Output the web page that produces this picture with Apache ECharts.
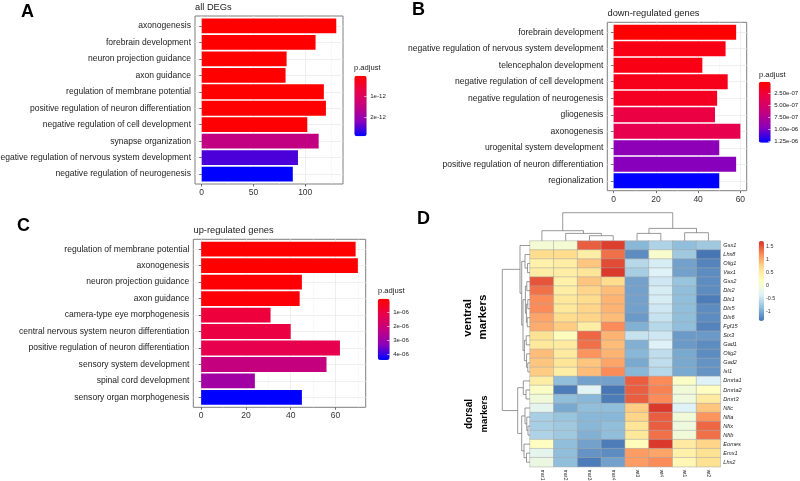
<!DOCTYPE html>
<html><head><meta charset="utf-8">
<style>html,body{margin:0;padding:0;background:#fff}#c{width:800px;height:481px}</style>
<script src="https://cdn.jsdelivr.net/npm/echarts@6/dist/echarts.min.js"></script>
</head><body><div id="c"></div>
<script>
// ---------- data ----------
const catsA = ["axonogenesis","forebrain development","neuron projection guidance","axon guidance","regulation of membrane potential","positive regulation of neuron differentiation","negative regulation of cell development","synapse organization","negative regulation of nervous system development","negative regulation of neurogenesis"];
const countsA = [130,110,82,81,118,120,102,113,93,88];
const padjA = [0.02,0.02,0.03,0.03,0.04,0.05,0.06,1.5,2.5,2.89]; // x 1e-12
const ticksA = [1,2];
const tickLabelsA = ["1e-12","2e-12"];

const catsB = ["forebrain development","negative regulation of nervous system development","telencephalon development","negative regulation of cell development","negative regulation of neurogenesis","gliogenesis","axonogenesis","urogenital system development","positive regulation of neuron differentiation","regionalization"];
const countsB = [58,53,42,54,49,48,60,50,58,50];
const padjB = [0.01,0.1,0.1,0.12,0.16,0.3,0.35,0.95,0.97,1.28]; // x 1e-6
const ticksB = [0.25,0.5,0.75,1,1.25];
const tickLabelsB = ["2.50e-07","5.00e-07","7.50e-07","1.00e-06","1.25e-06"];

const catsC = ["regulation of membrane potential","axonogenesis","neuron projection guidance","axon guidance","camera-type eye morphogenesis","central nervous system neuron differentiation","positive regulation of neuron differentiation","sensory system development","spinal cord development","sensory organ morphogenesis"];
const countsC = [69,70,45,44,31,40,62,56,24,45];
const padjC = [0,0.02,0.05,0.1,0.9,1.0,1.2,2.2,2.9,4.43]; // x 1e-6
const ticksC = [1,2,3,4];
const tickLabelsC = ["1e-06","2e-06","3e-06","4e-06"];

const genes = ["Gsx1","Lhx8","Olig1","Vax1","Gsx2","Dlx2","Dlx1","Dlx5","Dlx6","Fgf15","Six3","Gad1","Olig2","Gad2","Isl1","Dmrta1","Dmrta2","Dmrt3","Nfic","Nfia","Nfix","Nfib","Eomes","Emx1","Lhx2"];
const samples = ["mut1","mut2","mut3","mut4","wt3","wt4","wt1","wt2"];
const expr = [
[0.0,0.0,1.45,1.62,-0.9,-0.65,-0.85,-0.75],
[0.7,0.7,0.45,1.35,-1.2,0.05,-0.75,-1.35],
[0.4,0.45,0.85,1.55,-0.6,-0.4,-1.05,-1.25],
[0.45,0.45,0.6,1.65,-0.7,-0.35,-1.05,-1.2],
[1.5,0.4,0.85,0.7,-1.05,-0.45,-0.8,-1.2],
[1.35,0.45,0.75,0.9,-1.05,-0.4,-0.85,-1.2],
[1.2,0.55,0.7,0.95,-1.05,-0.4,-0.85,-1.3],
[1.2,0.55,0.75,0.95,-1.05,-0.45,-0.85,-1.2],
[1.05,0.7,0.75,0.9,-1.1,-0.5,-0.85,-1.2],
[1.0,0.8,0.45,1.2,-0.95,-0.6,-0.85,-1.25],
[0.65,0.2,1.4,0.95,-0.5,-0.45,-1.1,-1.1],
[0.55,0.5,1.35,0.9,-0.95,-0.35,-1.1,-1.2],
[0.9,0.5,1.15,0.95,-0.9,-0.55,-1.0,-1.2],
[0.85,0.6,0.85,1.05,-1.0,-0.55,-1.0,-1.15],
[0.8,0.45,0.9,1.2,-0.9,-0.6,-1.0,-1.15],
[0.45,-0.85,-1.05,-1.05,1.45,1.2,0.1,-0.35],
[0.1,-1.3,-0.3,-1.35,1.45,1.25,-0.05,0.15],
[-0.05,-0.85,-0.9,-1.3,1.45,1.2,-0.1,0.5],
[-0.25,-1.0,-0.85,-0.85,0.8,1.65,-0.35,0.85],
[-0.7,-0.8,-0.9,-0.9,0.75,1.45,-0.05,1.15],
[-0.7,-0.75,-0.9,-0.85,0.6,1.45,-0.1,1.4],
[-0.65,-0.75,-0.95,-0.85,0.55,1.35,-0.05,1.35],
[0.15,-0.85,-1.05,-1.3,0.2,1.65,0.5,0.75],
[-0.25,-0.85,-1.15,-1.2,1.1,1.05,0.4,0.65],
[-0.15,-0.85,-1.3,-1.05,1.1,1.2,0.3,0.65]
];
const heatTicks = [-1,-0.5,0,0.5,1,1.5];
const heatTickLabels = ["-1","-0.5","0","0.5","1","1.5"];
// dendrograms: [height, left, right]; a number is a leaf index
const colTree = [28,[10,0,[7.3,1,[5,2,3]]],[12.3,[7.3,4,5],[8,6,7]]];
const rowTree = [27.7,
  [10,0,[8.3,[5,1,[2.5,2,3]],[7,[4.6,[3.2,4,5],[3.6,[2.2,6,7],[2.8,8,9]]],[5.6,[3.8,10,11],[3.4,12,[2.2,13,14]]]]]],
  [12.3,[6.7,15,[4,16,17]],[8.3,[5,18,[3.2,19,[2,20,21]]],[6,22,[3.5,23,24]]]]];

// ---------- styling ----------
const FONT = '"Liberation Sans",Arial,sans-serif';
const padjColors = ['#ff0000','#e9004a','#c4007f','#8c00ba','#0000ff'];
const heatColors = ['#4575b4','#91bfdb','#e0f3f8','#ffffbf','#fee090','#fc8d59','#d73027'];

const panels = [
 {cats:catsA,counts:countsA,padj:padjA,xMax:136.5,xMin:-6.5,major:[0,50,100],minor:[25,75,125],
  box:[195,16,148,168],title:'all DEGs',titleXY:[195,3],bar:[354.3,75.7,12.4,60.6],pMin:0.03,pMax:2.89,ticks:ticksA,labels:tickLabelsA,legXY:[354,64]},
 {cats:catsB,counts:countsB,padj:padjB,xMax:63,xMin:-3,major:[0,20,40,60],minor:[10,30,50],
  box:[607.3,22.3,139.4,168.4],title:'down-regulated genes',titleXY:[607.5,9],bar:[758.7,81.7,12,61],pMin:0.01,pMax:1.28,ticks:ticksB,labels:tickLabelsB,legXY:[759,70.5]},
 {cats:catsC,counts:countsC,padj:padjC,xMax:73.5,xMin:-3.5,major:[0,20,40,60],minor:[10,30,50,70],
  box:[193.3,239.3,172.4,168],title:'up-regulated genes',titleXY:[193.5,226],bar:[377.7,298.7,12,61.3],pMin:0,pMax:4.43,ticks:ticksC,labels:tickLabelsC,legXY:[378,287]}
];

const grid=[],xAxis=[],yAxis=[],series=[],visualMap=[],title=[],graphic=[];
const addGrid = g => { grid.push(Object.assign({outerBoundsMode:'none'},g)); return grid.length-1; };
const txt = (text,x,y,size,extra)=>title.push({text,left:x,top:y,padding:0,itemGap:0,
  textStyle:Object.assign({fontFamily:FONT,fontSize:size,fontWeight:'normal',color:'#222'},extra||{})});

panels.forEach(p=>{
  const [l,t,w,h]=p.box, band=h/10.2, inset=0.1*band;
  // outer grid: frame, value axis, vertical guides
  const gOuter=addGrid({left:l,top:t,width:w,height:h,show:true,borderColor:'#7f7f7f',borderWidth:1,backgroundColor:'transparent'});
  xAxis.push({gridIndex:gOuter,type:'value',min:p.xMin,max:p.xMax,position:'bottom',
    axisLine:{show:false},
    axisTick:{show:true,customValues:p.major,length:2.5,lineStyle:{color:'#333',width:0.7}},
    axisLabel:{customValues:p.major,fontFamily:FONT,fontSize:8.5,color:'#333',margin:4},
    splitLine:{show:true,lineStyle:{color:'#ebebeb',width:0.8}}});
  xAxis.push({gridIndex:gOuter,type:'value',min:p.xMin,max:p.xMax,position:'bottom',
    axisLine:{show:false},axisTick:{show:false,customValues:p.minor},axisLabel:{show:false,customValues:p.minor},
    splitLine:{show:true,lineStyle:{color:'#f2f2f2',width:0.5}}});
  yAxis.push({gridIndex:gOuter,type:'value',min:0,max:1,show:false,splitLine:{show:false}});
  // inner grid: one band per term
  const gInner=addGrid({left:l,top:t+inset,width:w,height:h-2*inset});
  const xi=xAxis.length;
  xAxis.push({gridIndex:gInner,type:'value',min:p.xMin,max:p.xMax,show:false,splitLine:{show:false}});
  const yi=yAxis.length;
  yAxis.push({gridIndex:gInner,type:'category',inverse:true,data:p.cats,
    axisLine:{show:false},
    axisTick:{show:true,alignWithLabel:true,length:2.5,lineStyle:{color:'#333',width:0.7}},
    axisLabel:{fontFamily:FONT,fontSize:8.55,color:'#222',margin:4,interval:0,hideOverlap:false},
    splitLine:{show:true,alignWithLabel:true,lineStyle:{color:'#ebebeb',width:0.8}}});
  const si=series.length;
  series.push({type:'bar',xAxisIndex:xi,yAxisIndex:yi,barCategoryGap:'10%',silent:true,
    encode:{x:0,y:1},data:p.cats.map((c,i)=>[p.counts[i],c,p.padj[i]])});
  // colour bar (visualMap) with its tick axis
  visualMap.push({type:'continuous',show:true,seriesIndex:si,dimension:2,min:p.pMin,max:p.pMax,
    inverse:true,calculable:false,hoverLink:false,realtime:false,
    left:p.bar[0],top:p.bar[1],itemWidth:p.bar[2],itemHeight:p.bar[3],padding:0,text:null,showLabel:false,
    inRange:{color:padjColors},z:3});
  const gBar=addGrid({left:p.bar[0],top:p.bar[1],width:p.bar[2],height:p.bar[3],z:5});
  xAxis.push({gridIndex:gBar,type:'category',data:[''],show:false});
  yAxis.push({gridIndex:gBar,type:'value',inverse:true,position:'right',min:p.pMin,max:p.pMax,z:6,
    axisLine:{show:false},
    axisTick:{show:true,inside:true,customValues:p.ticks,length:2.5,lineStyle:{color:'#fff',width:0.6}},
    axisLabel:{customValues:p.ticks,fontFamily:FONT,fontSize:6.1,color:'#222',margin:3.5,
      formatter:v=>p.labels[p.ticks.indexOf(v)]||''},
    splitLine:{show:false}});
  txt(p.title,p.titleXY[0],p.titleXY[1],9.3,{color:'#222'});
  txt('p.adjust',p.legXY[0],p.legXY[1],7.6);
});

// panel letters
[['A',21,3],['B',412,1],['C',17,217],['D',417,210]].forEach(a=>txt(a[0],a[1],a[2],18,{fontWeight:'bold',color:'#000'}));

// heatmap
const gHeat=addGrid({left:530,top:241,width:190.3,height:225.7});
xAxis.push({gridIndex:gHeat,type:'category',data:samples,position:'bottom',axisLine:{show:false},axisTick:{show:false},
  axisLabel:{rotate:-90,fontFamily:FONT,fontSize:4.8,color:'#333',margin:3,interval:0},splitLine:{show:false}});
yAxis.push({gridIndex:gHeat,type:'category',inverse:true,position:'right',data:genes,axisLine:{show:false},axisTick:{show:false},
  axisLabel:{fontFamily:FONT,fontStyle:'italic',fontSize:5.6,color:'#222',margin:3,interval:0},splitLine:{show:false}});
const heatData=[];
expr.forEach((row,r)=>row.forEach((v,c)=>heatData.push([c,r,v])));
const siHeat=series.length;
series.push({type:'heatmap',xAxisIndex:xAxis.length-1,yAxisIndex:yAxis.length-1,data:heatData,silent:true,
  itemStyle:{borderColor:'#a6a6a6',borderWidth:0.5},emphasis:{disabled:true}});
visualMap.push({type:'continuous',show:true,seriesIndex:siHeat,dimension:2,min:-1.355,max:1.7,calculable:false,hoverLink:false,
  left:758.7,top:241,itemWidth:5.3,itemHeight:80,padding:0,text:null,showLabel:false,inRange:{color:heatColors},z:3});
const gHB=addGrid({left:758.7,top:241,width:5.3,height:80,z:5});
xAxis.push({gridIndex:gHB,type:'category',data:[''],show:false});
yAxis.push({gridIndex:gHB,type:'value',position:'right',min:-1.355,max:1.7,axisLine:{show:false},axisTick:{show:false,customValues:heatTicks},
  axisLabel:{customValues:heatTicks,fontFamily:FONT,fontSize:5.4,color:'#333',margin:2,formatter:v=>heatTickLabels[heatTicks.indexOf(v)]||''},splitLine:{show:false}});

// dendrograms: tree -> segments, placed through the axes
function segs(tree,out){
  if(typeof tree==='number') return {pos:tree+0.5,h:0};
  const a=segs(tree[1],out), b=segs(tree[2],out), h=tree[0];
  out.push([a.pos,a.h,a.pos,h],[b.pos,b.h,b.pos,h],[a.pos,h,b.pos,h]);
  return {pos:(a.pos+b.pos)/2,h};
}
function dendro(tree,gridRect,vertical,nLeaves){
  const g=addGrid(gridRect);
  const out=[]; segs(tree,out);
  const leafAxis={gridIndex:g,type:'value',min:0,max:nLeaves,show:false,splitLine:{show:false}};
  const hAxis={gridIndex:g,type:'value',min:0,max:tree[0],show:false,splitLine:{show:false}};
  if(vertical){ xAxis.push(leafAxis); yAxis.push(hAxis); }
  else { xAxis.push(Object.assign(hAxis,{inverse:true})); yAxis.push(Object.assign(leafAxis,{inverse:true})); }
  series.push({type:'custom',xAxisIndex:xAxis.length-1,yAxisIndex:yAxis.length-1,silent:true,clip:false,data:out,
    encode:{x:vertical?[0,2]:[1,3],y:vertical?[1,3]:[0,2]},
    renderItem:(params,api)=>{
      const p0=api.value(0),h0=api.value(1),p1=api.value(2),h1=api.value(3);
      const A=vertical?api.coord([p0,h0]):api.coord([h0,p0]);
      const B=vertical?api.coord([p1,h1]):api.coord([h1,p1]);
      return {type:'line',shape:{x1:A[0],y1:A[1],x2:B[0],y2:B[1]},style:{stroke:'#6e6e6e',lineWidth:0.7}};
    }});
}
dendro(colTree,{left:530,top:212.7,width:190.3,height:28},true,8);
dendro(rowTree,{left:502.3,top:241,width:27.7,height:225.7},false,25);

// rotated side annotations
[['ventral',468,318,11.5],['markers',482.7,317,11.5],['dorsal',469,414,10],['markers',484,414,9.5]].forEach(a=>
  graphic.push({type:'text',x:a[1],y:a[2],rotation:Math.PI/2,silent:true,
    style:{text:a[0],x:0,y:0,align:'center',verticalAlign:'middle',fontFamily:FONT,fontWeight:'bold',fontSize:a[3],fill:'#000'}}));

const chart=echarts.init(document.getElementById('c'),null,{renderer:'canvas',width:800,height:481});
chart.setOption({animation:false,backgroundColor:'#fff',title,grid,xAxis,yAxis,series,visualMap,graphic,tooltip:{show:false}});
</script></body></html>
